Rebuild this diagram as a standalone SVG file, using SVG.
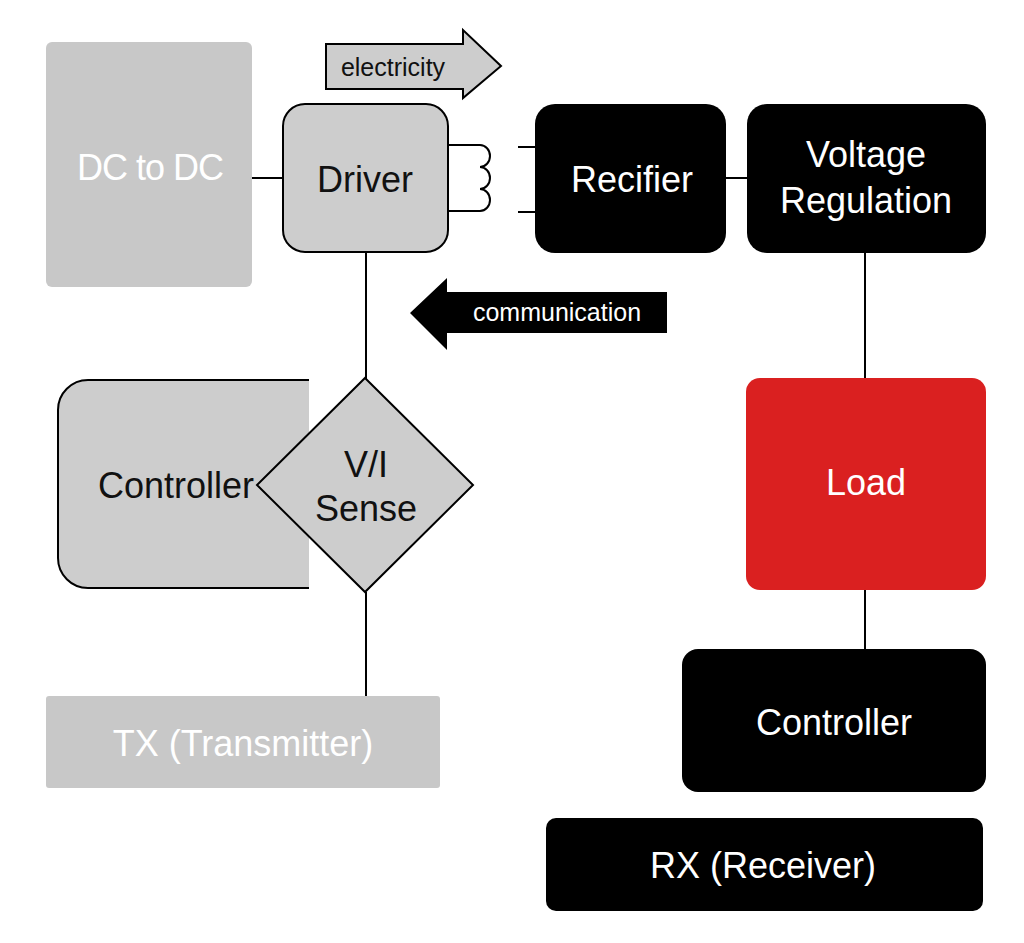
<svg xmlns="http://www.w3.org/2000/svg" width="1024" height="943" viewBox="0 0 1024 943">
<style>
text{font-family:"Liberation Sans",Arial,sans-serif;text-anchor:middle}
.ln{stroke:#000;stroke-width:2;fill:none}
.g{fill:#cdcdcd;stroke:#000;stroke-width:2}
.blk{fill:#000}
.w{fill:#fff;font-size:36px}
.b{fill:#111;font-size:36px}
</style>
<rect width="1024" height="943" fill="#fff"/>
<g id="connectors">
<line class="ln" x1="252" y1="178" x2="283" y2="178"/>
<line class="ln" x1="366" y1="252" x2="366" y2="380"/>
<line class="ln" x1="366" y1="592" x2="366" y2="696"/>
<line class="ln" x1="725" y1="178" x2="748" y2="178"/>
<line class="ln" x1="865" y1="252" x2="865" y2="380"/>
<line class="ln" x1="865" y1="588" x2="865" y2="650"/>
<path class="ln" d="M448 145 H480 a10 11 0 0 1 0 22 a10 11 0 0 1 0 22 a10 11 0 0 1 0 22 H448"/>
<line class="ln" x1="518" y1="147" x2="536" y2="147"/>
<line class="ln" x1="518" y1="212" x2="536" y2="212"/>
</g>
<g id="electricity">
<polygon points="326,44 463,44 463,30 501,66 463,98 463,89 326,89" fill="#cdcdcd" stroke="#000" stroke-width="2"/>
<text x="393" y="76" font-size="25" fill="#111">electricity</text>
</g>
<g id="communication">
<polygon points="410,313 447,278 447,292 667,292 667,333 447,333 447,350" fill="#000"/>
<text x="557" y="321" font-size="25" fill="#fff">communication</text>
</g>
<g id="dcdc"><rect x="46" y="42" width="206" height="245" rx="6" fill="#c8c8c8"/><text x="150" y="180" class="w" letter-spacing="-1">DC to DC</text></g>
<g id="driver"><rect x="283" y="104" width="165" height="148" rx="22" class="g"/><text x="365" y="192" class="b">Driver</text></g>
<g id="rectifier"><rect x="535" y="104" width="191" height="149" rx="20" class="blk"/><text x="632" y="192" class="w">Recifier</text></g>
<g id="vreg"><rect x="747" y="104" width="239" height="149" rx="20" class="blk"/><text x="866" y="167" class="w">Voltage</text><text x="866" y="213" class="w">Regulation</text></g>
<g id="controller-tx"><path d="M309 380 H88 a30 30 0 0 0 -30 30 V558 a30 30 0 0 0 30 30 H309 Z" fill="#cdcdcd"/><path class="ln" d="M309 380 H88 a30 30 0 0 0 -30 30 V558 a30 30 0 0 0 30 30 H309"/><text x="176" y="498" class="b">Controller</text></g>
<g id="visense"><polygon points="365,378 473,485 365,592 257,485" class="g"/><text x="366" y="477" class="b">V/I</text><text x="366" y="521" class="b">Sense</text></g>
<g id="load"><rect x="746" y="378" width="240" height="212" rx="14" fill="#da2020"/><text x="866" y="495" class="w">Load</text></g>
<g id="tx"><rect x="46" y="696" width="394" height="92" rx="3" fill="#c8c8c8"/><text x="243" y="756" class="w">TX (Transmitter)</text></g>
<g id="controller-rx"><rect x="682" y="649" width="304" height="143" rx="16" class="blk"/><text x="834" y="735" class="w">Controller</text></g>
<g id="rx"><rect x="546" y="818" width="437" height="93" rx="10" class="blk"/><text x="763" y="878" class="w">RX (Receiver)</text></g>
</svg>
